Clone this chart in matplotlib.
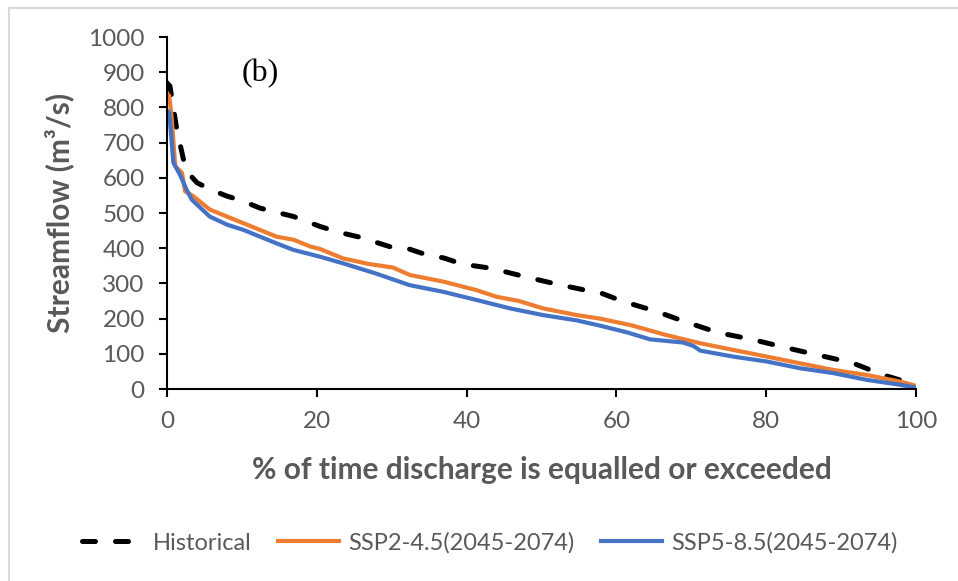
import numpy as np
import matplotlib
matplotlib.use("Agg")
import matplotlib.pyplot as plt
from matplotlib.patches import Rectangle

plt.rcParams['font.family'] = ['Lato', 'DejaVu Sans']

# flow duration curves (% exceedance, streamflow m3/s)
hist_x = [0, 0.4, 1.3, 2.2, 3, 4, 6, 8, 10, 12.4, 15, 16.9, 20.4, 23, 25.8, 29.8, 32,
          34.4, 37, 39.1, 41, 43.3, 47.8, 52, 56.5, 58, 61, 65.1, 69.2, 73.6, 78.1,
          82.5, 87, 91.4, 95.6, 99.4, 100]
hist_y = [870, 860, 738, 652, 610, 586, 565, 548, 535, 514, 500, 490, 462, 445, 431, 404, 400,
          383, 372, 357, 350, 343, 319, 298, 278, 272, 248, 222, 191, 160, 141,
          118, 96, 75, 40, 16, 10]

ssp245_x = [0, 0.3, 0.6, 1.1, 2, 2.4, 3.5, 5.7, 8, 10.2, 12.4, 14.6, 16.9, 19.1, 20.4,
            23.5, 27, 30.2, 32.4, 36.9, 41.3, 44, 47, 50.2, 54.7, 57.8, 62, 66.7,
            71.2, 75.6, 80.1, 84.5, 89, 93.4, 97.9, 100]
ssp245_y = [840, 833, 776, 633, 614, 562, 548, 510, 490, 471, 452, 433, 424, 405, 398,
            371, 355, 345, 324, 305, 281, 262, 250, 229, 210, 200, 181, 153,
            130, 111, 92, 73, 54, 40, 21, 9]

ssp585_x = [0, 0.3, 0.85, 1.7, 2.6, 3.3, 5.7, 8, 10.2, 12.4, 14.6, 16.9, 20.4, 23.5,
            27.9, 32.4, 36.9, 41.3, 45.8, 50.2, 54.7, 57.8, 61.4, 64.5, 68.9, 70.3,
            71.2, 75.6, 80.1, 84.5, 89, 93.4, 97.9, 100]
ssp585_y = [790, 786, 643, 610, 567, 538, 490, 467, 452, 433, 414, 395, 376, 357,
            328, 295, 276, 253, 229, 210, 195, 180, 161, 141, 132, 122,
            109, 92, 78, 59, 45, 26, 12, 4]

labels = ['Historical', 'SSP2-4.5(2045-2074)', 'SSP5-8.5(2045-2074)']
grey = '#595959'

fig = plt.figure(figsize=(9.58, 5.81), dpi=100)
ax = fig.add_axes([167/958, 1 - 389/581, 749/958, 352/581])

ax.plot(hist_x, hist_y, color='black', lw=3.6, linestyle=(0, (2.6, 4.0)),
        dash_capstyle='round', label=labels[0])
ax.plot(ssp245_x, ssp245_y, color='#ED7D31', lw=3, label=labels[1])
ax.plot(ssp585_x, ssp585_y, color='#4472C4', lw=3, label=labels[2])

ax.set_xlim(0, 100)
ax.set_ylim(0, 1000)
ax.set_xticks(np.arange(0, 101, 20))
ax.set_yticks(np.arange(0, 1001, 100))
for s in ['top', 'right']:
    ax.spines[s].set_visible(False)
for s in ['left', 'bottom']:
    ax.spines[s].set_linewidth(1.5)
ax.tick_params(direction='out', length=6, width=1.5, labelsize=17.5,
               labelcolor=grey)
ax.tick_params(axis='y', pad=10)
ax.tick_params(axis='x', pad=10)

ax.set_xlabel('% of time discharge is equalled or exceeded', fontsize=21.5,
              fontweight='bold', color=grey, labelpad=17)
ax.set_ylabel('Streamflow (m³/s)', fontsize=21.5, fontweight='bold', color=grey,
              labelpad=10)

ax.text(0.124, 0.895, '(b)', transform=ax.transAxes, fontsize=23,
        family='Liberation Serif', ha='center', va='center')

fig.legend(loc='center', bbox_to_anchor=(490/958, 1 - 543/581), ncol=3,
           frameon=False, fontsize=17, handlelength=2.6, handletextpad=0.4,
           columnspacing=1.1, labelcolor=grey)

# light grey chart border (only the top and left edges are in frame)
fig.patches.append(Rectangle((8.5/958, -0.1), 1.2, 1.1 - 7.5/581,
                             transform=fig.transFigure, fill=False,
                             edgecolor='#D9D9D9', linewidth=1.5))

fig.savefig('out.png', dpi=100)
